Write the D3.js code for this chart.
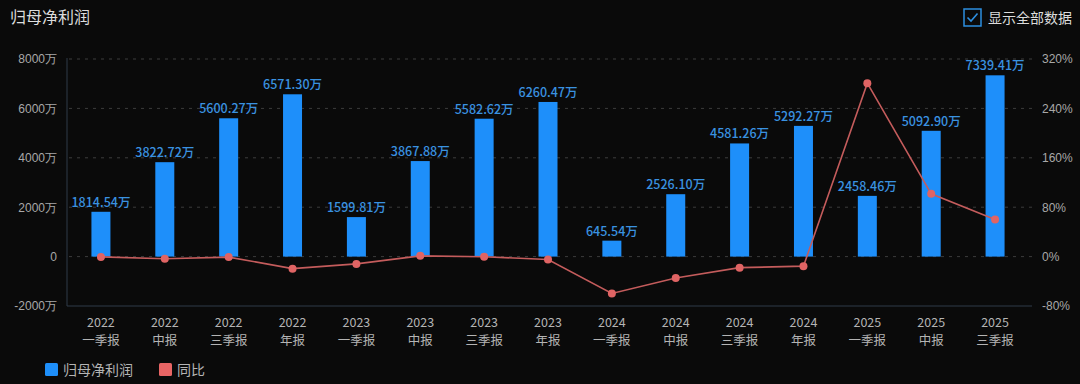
<!DOCTYPE html>
<html>
<head>
<meta charset="utf-8">
<script src="https://cdn.jsdelivr.net/npm/d3@7/dist/d3.min.js"></script>
<style>
  html, body { margin: 0; padding: 0; background: #0a0a0a; }
  svg { display: block; font-family: "Noto Sans CJK SC", "Noto Sans", sans-serif; }
</style>
</head>
<body>
<svg id="chart"></svg>
<script>
// data
const years = ['2022', '2022', '2022', '2022', '2023', '2023', '2023', '2023',
    '2024', '2024', '2024', '2024', '2025', '2025', '2025'];
const periods = ['一季报', '中报', '三季报', '年报', '一季报', '中报', '三季报', '年报',
    '一季报', '中报', '三季报', '年报', '一季报', '中报', '三季报'];
const profit = [1814.54, 3822.72, 5600.27, 6571.30, 1599.81, 3867.88, 5582.62, 6260.47,
    645.54, 2526.10, 4581.26, 5292.27, 2458.46, 5092.90, 7339.41];
const yoy = [-0.5, -3.5, -0.8, -19.5, -11.8, 1.2, -0.3, -4.7,
    -59.6, -34.7, -17.9, -15.5, 280.8, 101.6, 60.2];
const leftTicks = [-2000, 0, 2000, 4000, 6000, 8000];
const rightTicks = [-80, 0, 80, 160, 240, 320];

const width = 1080, height = 384;
const margin = { top: 59, right: 53, bottom: 78, left: 69 };
const innerW = width - margin.left - margin.right;
const innerH = height - margin.top - margin.bottom;

const svg = d3.select('#chart').attr('width', width).attr('height', height);
svg.append('rect').attr('width', width).attr('height', height).attr('fill', '#0a0a0a');

// title
svg.append('text')
    .attr('x', 10).attr('y', 23)
    .attr('fill', '#dcdcdc')
    .attr('font-size', 16)
    .text('归母净利润');

// checkbox
const cb = svg.append('g').attr('transform', 'translate(964,9)');
cb.append('rect').attr('width', 17).attr('height', 17)
    .attr('fill', 'none').attr('stroke', '#2d8fe0').attr('stroke-width', 1.5);
cb.append('path').attr('d', 'M3.5,8.5 L7,12 L13.5,4.5')
    .attr('fill', 'none').attr('stroke', '#2d8fe0').attr('stroke-width', 1.6);
svg.append('text')
    .attr('x', 988).attr('y', 23)
    .attr('fill', '#dcdcdc').attr('font-size', 14)
    .text('显示全部数据');

const idx = d3.range(profit.length);
const x = d3.scaleBand().domain(idx).range([0, innerW]);
const y = d3.scaleLinear().domain([-2000, 8000]).range([innerH, 0]);
const y2 = d3.scaleLinear().domain([-80, 320]).range([innerH, 0]);

const g = svg.append('g').attr('transform', 'translate(' + margin.left + ',' + margin.top + ')');

// grid
g.selectAll('.grid')
    .data(leftTicks.filter(d => d !== -2000))
    .enter().append('line')
    .attr('class', 'grid')
    .attr('x1', 0).attr('x2', innerW + 5)
    .attr('y1', d => y(d)).attr('y2', d => y(d))
    .attr('stroke', '#3c3c3c')
    .attr('stroke-dasharray', '3,5');

// left axis
const yAxis = g.append('g')
    .call(d3.axisLeft(y).tickValues(leftTicks).tickSize(0).tickPadding(12)
        .tickFormat(d => d === 0 ? '0' : d + '万'));
yAxis.select('.domain').remove();
yAxis.selectAll('text').attr('fill', '#a8a8a8').attr('font-size', 12);

g.append('line')
    .attr('x1', -2).attr('x2', -2).attr('y1', -1).attr('y2', innerH)
    .attr('stroke', '#2f3b48');

// right axis
const y2Axis = g.append('g')
    .attr('transform', 'translate(' + innerW + ',0)')
    .call(d3.axisRight(y2).tickValues(rightTicks).tickSize(0).tickPadding(15)
        .tickFormat(d => d + '%'));
y2Axis.select('.domain').remove();
y2Axis.selectAll('text').attr('fill', '#a8a8a8').attr('font-size', 12);

// x axis
g.append('line')
    .attr('x1', -2).attr('x2', innerW + 5).attr('y1', innerH).attr('y2', innerH)
    .attr('stroke', '#2f3b48');

const cx = d => x(d) + x.bandwidth() / 2;
g.selectAll('.xyear')
    .data(idx)
    .enter().append('text')
    .attr('class', 'xyear')
    .attr('x', cx).attr('y', innerH + 20.5)
    .attr('text-anchor', 'middle')
    .attr('fill', '#b4b4b4')
    .attr('font-size', 12.5)
    .text(d => years[d]);
g.selectAll('.xperiod')
    .data(idx)
    .enter().append('text')
    .attr('class', 'xperiod')
    .attr('x', cx).attr('y', innerH + 38.5)
    .attr('text-anchor', 'middle')
    .attr('fill', '#b4b4b4')
    .attr('font-size', 12.5)
    .text(d => periods[d]);

// bars
const barW = 19;
g.selectAll('.bar')
    .data(idx)
    .enter().append('rect')
    .attr('class', 'bar')
    .attr('x', d => cx(d) - barW / 2)
    .attr('y', d => y(profit[d]))
    .attr('width', barW)
    .attr('height', d => y(0) - y(profit[d]))
    .attr('fill', '#1e8ffa');

g.selectAll('.blab')
    .data(idx)
    .enter().append('text')
    .attr('class', 'blab')
    .attr('x', cx)
    .attr('y', d => y(profit[d]) - 5)
    .attr('text-anchor', 'middle')
    .attr('fill', '#3a92e0')
    .attr('font-size', 12.5)
    .attr('font-weight', 500)
    .text(d => profit[d].toFixed(2) + '万');

// line
const line = d3.line()
    .x(cx)
    .y(d => y2(yoy[d]));
g.append('path')
    .datum(idx)
    .attr('d', line)
    .attr('fill', 'none')
    .attr('stroke', '#c45c5c')
    .attr('stroke-width', 1.6);
g.selectAll('.dot')
    .data(idx)
    .enter().append('circle')
    .attr('class', 'dot')
    .attr('cx', cx)
    .attr('cy', d => y2(yoy[d]))
    .attr('r', 4)
    .attr('fill', '#e06464');

// legend
const legend = [{ name: '归母净利润', color: '#1e8ffa', x: 45 }, { name: '同比', color: '#e86565', x: 159 }];
const lg = svg.selectAll('.legend')
    .data(legend)
    .enter().append('g')
    .attr('class', 'legend')
    .attr('transform', d => 'translate(' + d.x + ',363)');
lg.append('rect').attr('width', 13).attr('height', 13).attr('rx', 1.5).attr('fill', d => d.color);
lg.append('text').attr('x', 18).attr('y', 12)
    .attr('fill', '#b4b4b4').attr('font-size', 14)
    .text(d => d.name);
</script>
</body>
</html>
